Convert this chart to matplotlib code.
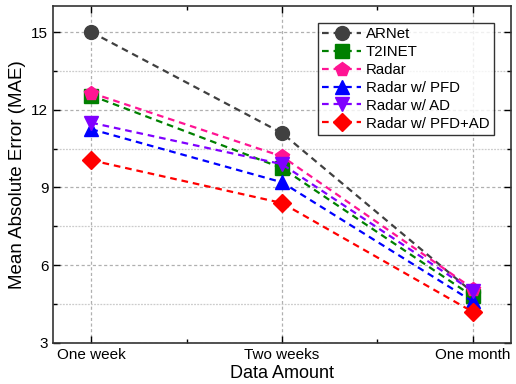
import matplotlib
matplotlib.use("Agg")
import matplotlib.pyplot as plt
from matplotlib.ticker import MultipleLocator

plt.rcParams['font.family'] = ['Liberation Sans', 'DejaVu Sans']

categories = ['One week', 'Two weeks', 'One month']
labels = ['ARNet', 'T2INET', 'Radar', 'Radar w/ PFD', 'Radar w/ AD', 'Radar w/ PFD+AD']
arnet = [15.0, 11.1, 4.95]
t2inet = [12.55, 9.75, 4.8]
radar = [12.65, 10.2, 5.1]
radar_pfd = [11.25, 9.2, 4.6]
radar_ad = [11.5, 9.9, 5.0]
radar_pfd_ad = [10.05, 8.4, 4.2]

series = [arnet, t2inet, radar, radar_pfd, radar_ad, radar_pfd_ad]
colors = ['#404040', '#008000', '#ff1493', '#0000ff', '#8000ff', '#ff0000']
markers = ['o', 's', 'p', '^', 'v', 'D']

fig = plt.figure(figsize=(5.16, 3.84), dpi=100)
ax = fig.add_axes([0.103, 0.107, 0.887, 0.877])

x = list(range(len(categories)))
for vals, lab, c, m in zip(series, labels, colors, markers):
    ax.plot(x, vals, linestyle='--', dashes=(3, 2.2), color=c, marker=m,
            markersize=10 if m != 'D' else 9, linewidth=1.6, label=lab)

ax.set_xlim(-0.2, 2.2)
ax.set_ylim(3, 16)
ax.set_xticks(x)
ax.set_xticklabels(categories)
ax.xaxis.set_minor_locator(MultipleLocator(0.5))
ax.yaxis.set_major_locator(MultipleLocator(3))
ax.yaxis.set_minor_locator(MultipleLocator(1.5))

ax.grid(which='major', axis='both', color='#b0b0b0', linestyle=(0, (2.5, 2)), linewidth=0.9)
ax.grid(which='minor', axis='y', color='#cccccc', linestyle=(0, (1.5, 1)), linewidth=0.9)
ax.set_axisbelow(True)

ax.tick_params(which='both', direction='in', top=True, right=True, labelsize=11)
ax.tick_params(which='major', length=5, width=1)
ax.tick_params(which='minor', length=3, width=1)
for s in ax.spines.values():
    s.set_linewidth(1.2)
    s.set_color('#333333')

ax.set_xlabel('Data Amount', fontsize=13, labelpad=2)
ax.set_ylabel('Mean Absolute Error (MAE)', fontsize=13.5, labelpad=4)

leg = ax.legend(loc='upper right', bbox_to_anchor=(0.97, 0.96), fontsize=10.8,
                frameon=True, fancybox=False, edgecolor='black',
                handlelength=2.6, labelspacing=0.26, borderpad=0.3,
                handletextpad=0.3, borderaxespad=0.2)
leg.get_frame().set_linewidth(1.0)

fig.savefig('out.png', dpi=100)
